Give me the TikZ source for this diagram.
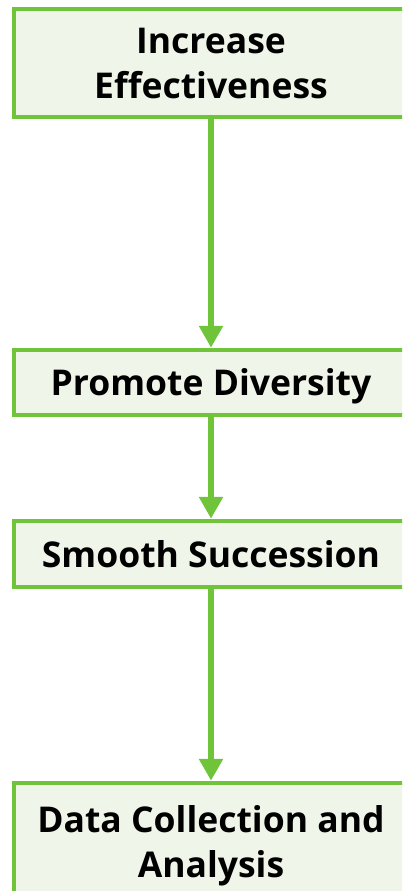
\documentclass[tikz,border=0pt]{standalone}
\usepackage{fontspec}
\setmainfont{Open Sans}
\usetikzlibrary{arrows.meta}
\definecolor{gborder}{RGB}{112,196,58}
\definecolor{gfill}{RGB}{239,245,232}
\begin{document}
\begin{tikzpicture}[x=1pt,y=-1pt,
  box/.style={draw=gborder,fill=gfill,line width=4.5pt,minimum width=394pt,inner sep=0pt,align=center,
    text depth=0pt,font=\bfseries\fontsize{35.5}{45}\selectfont},
  conn/.style={draw=gborder,line width=6pt,-{Triangle[width=23pt,length=22pt]}}]
\clip (0,0) rectangle (402,891);
\fill[white] (0,0) rectangle (402,891);
\node[box,minimum height=108pt] (b1) at (211,63) {Increase\\Effectiveness};
\node[box,minimum height=65pt] (b2) at (211,382.5) {Promote Diversity};
\node[box,minimum height=66pt] (b3) at (211,554) {Smooth Succession};
\node[box,minimum height=118pt] (b4) at (211,842) {Data Collection and\\Analysis};
\draw[conn] (b1) -- (b2);
\draw[conn] (b2) -- (b3);
\draw[conn] (b3) -- (b4);
\end{tikzpicture}
\end{document}
